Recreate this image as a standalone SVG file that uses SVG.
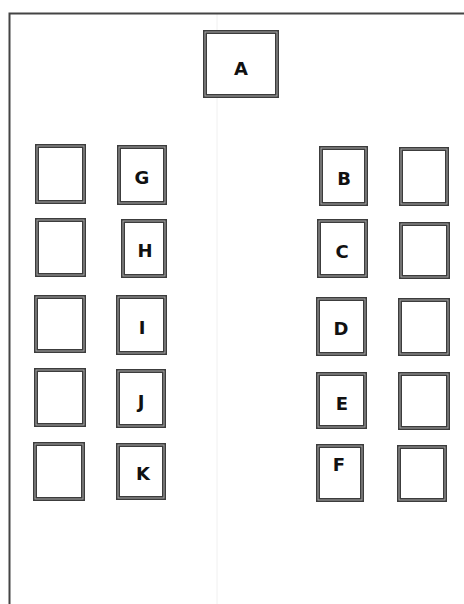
<svg xmlns="http://www.w3.org/2000/svg" width="464" height="604" viewBox="0 0 464 604">
<style>
.o{fill:#fff;stroke:#3c3c3c;stroke-width:4}
.i{fill:none;stroke:#a8a8a8;stroke-width:1}
.t{font-family:"DejaVu Sans",Verdana,sans-serif;font-weight:bold;font-size:18px;fill:#111;text-anchor:middle}
.f{fill:none;stroke:#444;stroke-width:2}
</style>
<rect width="464" height="604" fill="#fff"/>
<line x1="217" y1="14" x2="217" y2="604" stroke="#f0f0f0" stroke-width="1"/>
<g id="frame"><path class="f" d="M9.5 604 V13.5 H464"/></g>
<g id="A"><rect class="o" x="205" y="32" width="72" height="64"/><rect class="i" x="205" y="32" width="72" height="64"/><text class="t" x="241" y="75">A</text></g>
<g id="L1"><rect class="o" x="37" y="146" width="47" height="56"/><rect class="i" x="37" y="146" width="47" height="56"/></g>
<g id="G"><rect class="o" x="119" y="147" width="46" height="56"/><rect class="i" x="119" y="147" width="46" height="56"/><text class="t" x="142" y="184">G</text></g>
<g id="L2"><rect class="o" x="37" y="220" width="47" height="55"/><rect class="i" x="37" y="220" width="47" height="55"/></g>
<g id="H"><rect class="o" x="123" y="221" width="42" height="55"/><rect class="i" x="123" y="221" width="42" height="55"/><text class="t" x="145" y="257">H</text></g>
<g id="L3"><rect class="o" x="36" y="297" width="48" height="54"/><rect class="i" x="36" y="297" width="48" height="54"/></g>
<g id="I"><rect class="o" x="118" y="297" width="47" height="56"/><rect class="i" x="118" y="297" width="47" height="56"/><text class="t" x="142" y="334">I</text></g>
<g id="L4"><rect class="o" x="36" y="370" width="48" height="55"/><rect class="i" x="36" y="370" width="48" height="55"/></g>
<g id="J"><rect class="o" x="118" y="371" width="46" height="55"/><rect class="i" x="118" y="371" width="46" height="55"/><text class="t" x="141" y="408">J</text></g>
<g id="L5"><rect class="o" x="35" y="444" width="48" height="55"/><rect class="i" x="35" y="444" width="48" height="55"/></g>
<g id="K"><rect class="o" x="118" y="445" width="46" height="53"/><rect class="i" x="118" y="445" width="46" height="53"/><text class="t" x="143" y="480">K</text></g>
<g id="B"><rect class="o" x="321" y="148" width="45" height="56"/><rect class="i" x="321" y="148" width="45" height="56"/><text class="t" x="344" y="185">B</text></g>
<g id="R1"><rect class="o" x="401" y="149" width="46" height="55"/><rect class="i" x="401" y="149" width="46" height="55"/></g>
<g id="C"><rect class="o" x="319" y="221" width="47" height="55"/><rect class="i" x="319" y="221" width="47" height="55"/><text class="t" x="342" y="258">C</text></g>
<g id="R2"><rect class="o" x="401" y="224" width="47" height="53"/><rect class="i" x="401" y="224" width="47" height="53"/></g>
<g id="D"><rect class="o" x="318" y="299" width="47" height="55"/><rect class="i" x="318" y="299" width="47" height="55"/><text class="t" x="341" y="335">D</text></g>
<g id="R3"><rect class="o" x="400" y="300" width="48" height="54"/><rect class="i" x="400" y="300" width="48" height="54"/></g>
<g id="E"><rect class="o" x="318" y="374" width="47" height="53"/><rect class="i" x="318" y="374" width="47" height="53"/><text class="t" x="342" y="410">E</text></g>
<g id="R4"><rect class="o" x="400" y="374" width="48" height="54"/><rect class="i" x="400" y="374" width="48" height="54"/></g>
<g id="F"><rect class="o" x="318" y="446" width="44" height="54"/><rect class="i" x="318" y="446" width="44" height="54"/><text class="t" x="339" y="471">F</text></g>
<g id="R5"><rect class="o" x="399" y="447" width="46" height="53"/><rect class="i" x="399" y="447" width="46" height="53"/></g>
</svg>
